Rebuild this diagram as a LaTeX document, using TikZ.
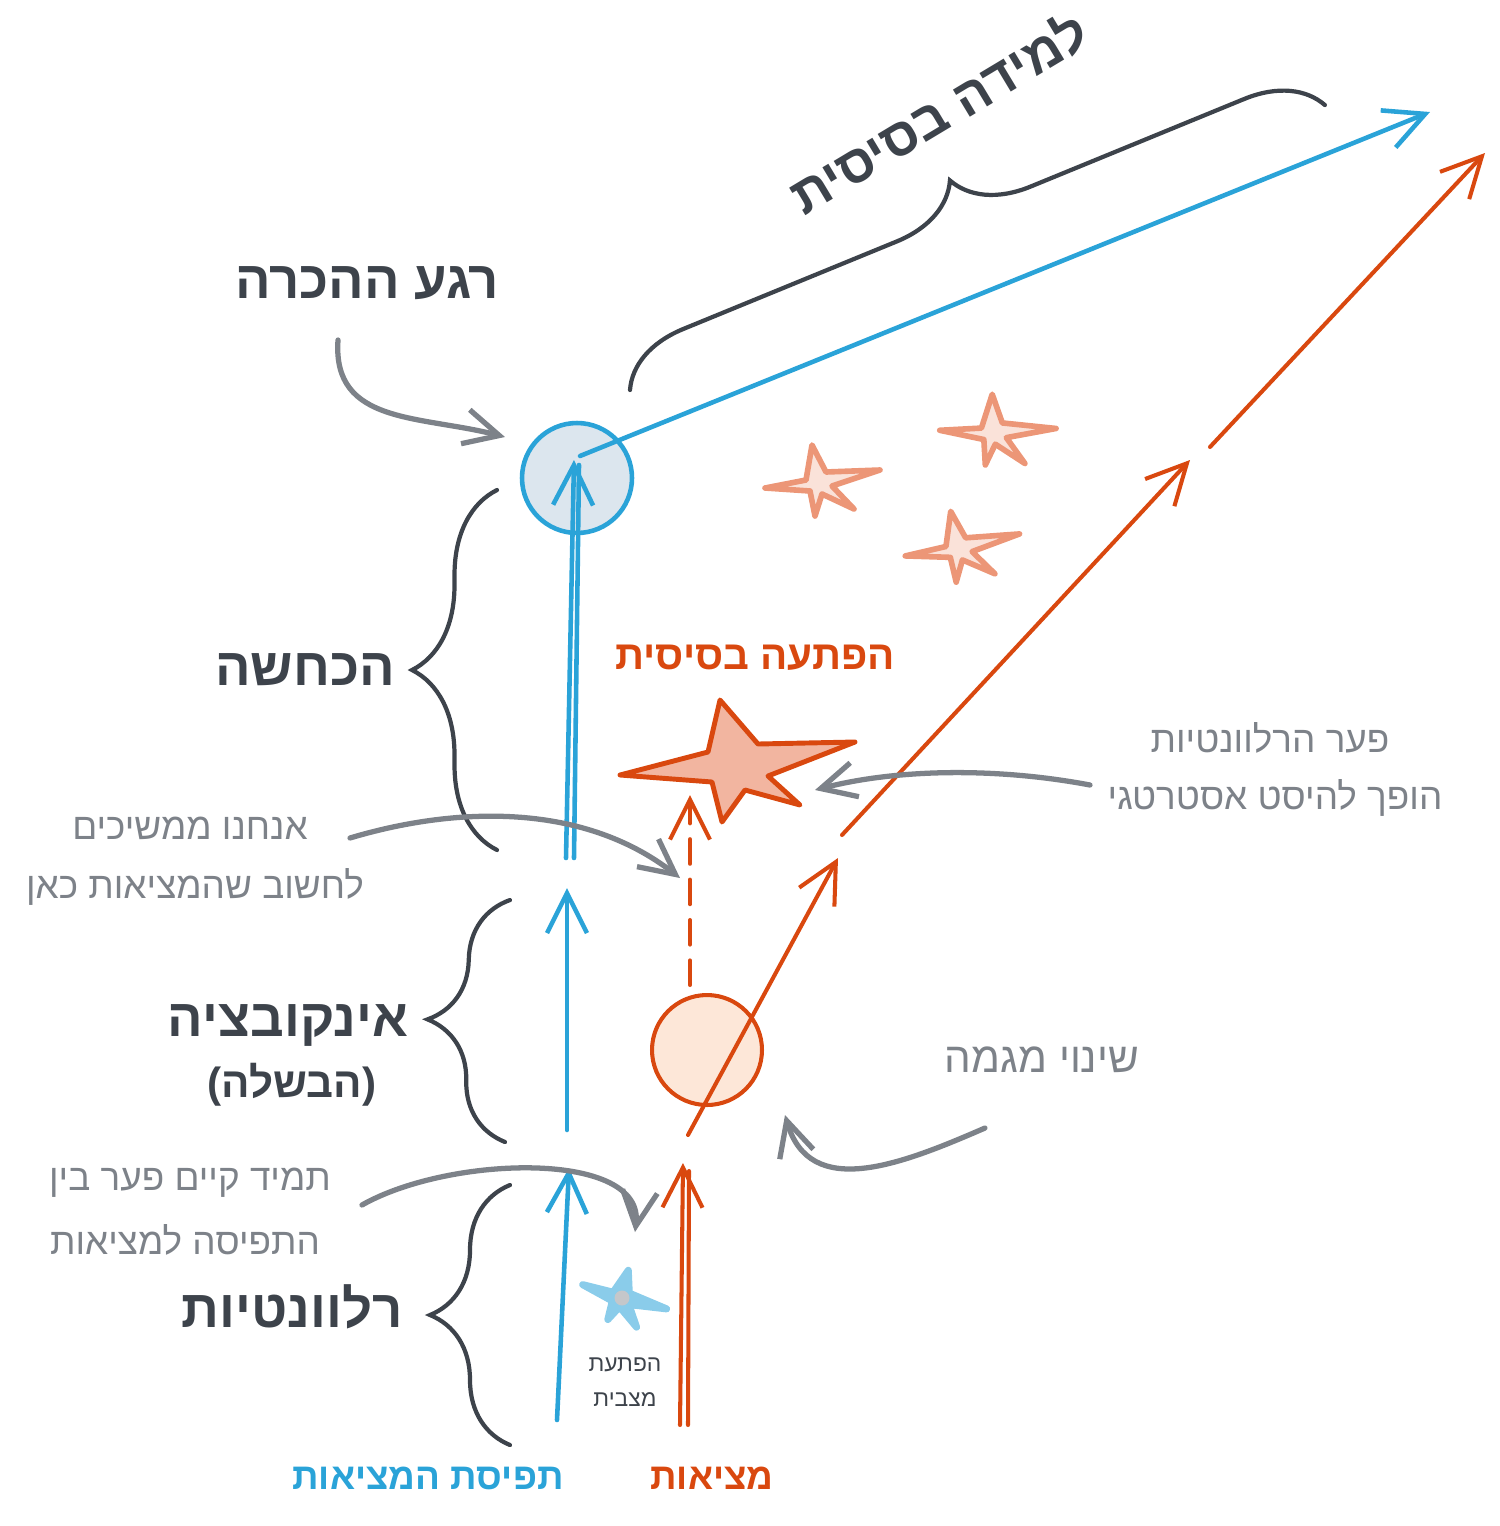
\documentclass[tikz,border=0pt]{standalone}
\usepackage{fontspec}
\usepackage{tikz}
\usepackage{xcolor}
\usetikzlibrary{
  arrows.meta, shapes.geometric, decorations.pathreplacing, calc,
}
\TeXXeTstate=1
\newfontfamily\hebfont[Script=Hebrew]{Liberation Sans}
\newfontfamily\latsans{Liberation Sans}
\newcommand{\rtl}[1]{\beginR #1\endR}
\definecolor{cBlue}      {HTML}{2AA3D8}
\definecolor{cOrange}    {HTML}{D9480F}
\definecolor{cGray}      {HTML}{7D8289}
\definecolor{cDark}      {HTML}{3D434B}
\definecolor{cSalmon}    {HTML}{EC9677}
\definecolor{cBlueFill}  {HTML}{DCE6EE}
\definecolor{cOrangeFill}{HTML}{FDE7D8}

\tikzset{
  pics/burst/.style n args={3}{code={
    \filldraw[draw=#1, fill=#2, line width=#3, line join=round, line cap=round]
      (-55,6) -- (-14,-2) -- (-8,-37) -- (6,-10) -- (60,-12) -- (12,4)
      -- (34,27) -- (2,12) -- (-5,34) -- (-10,9) -- cycle;
  }},
}

\begin{document}
\begin{tikzpicture}[x=0.02cm, y=-0.02cm,
    barb/.style={-{Straight Barb[length=8mm, width=8mm]}},
    grayarrow/.style={draw=cGray, line width=3pt, line cap=round,
      -{Straight Barb[length=7mm, width=7mm]}},
    bluestroke/.style={draw=cBlue, line width=2.6pt, line cap=round},
    orangestroke/.style={draw=cOrange, line width=2.3pt, line cap=round},
    bracestroke/.style={draw=cDark, line width=2.4pt, line cap=round,
      decorate, decoration={brace, amplitude=#1}},
    darklbl/.style={font=\hebfont\bfseries\fontsize{30}{36}\selectfont, text=cDark},
    graylbl/.style={font=\hebfont\fontsize{21}{25}\selectfont, text=cGray},
  ]
  \useasboundingbox (0,0) rectangle (1500,1526);

  % circles: moment of recognition and trend change
  \node[circle, draw=cBlue, fill=cBlueFill, line width=2.6pt,
        minimum size=2.2cm] (recog) at (577,478) {};
  \node[circle, draw=cOrange, fill=cOrangeFill, line width=2.3pt,
        minimum size=2.2cm] (trend) at (707,1050) {};

  % perception line (blue)
  \coordinate (pA) at (557,1420);  \coordinate (pB) at (569,1168);
  \coordinate (pC) at (567,1130);  \coordinate (pD) at (567,888);
  \coordinate (pE) at (566,858);   \coordinate (pF) at (574,460);
  \coordinate (pG) at (1430,112);
  \draw[bluestroke, barb] (pA) -- (pB);
  \draw[bluestroke, barb] (pC) -- (pD);
  \draw[bluestroke] ($(pE)+(8,0)$) -- ($(pF)+(5,5)$);
  \draw[bluestroke, barb] (pE) -- (pF);
  \draw[bluestroke, barb] (recog.center) ++(3,-22) coordinate (pS) -- (pG);

  % reality line (orange)
  \coordinate (rA) at (680,1425);  \coordinate (rB) at (683,1163);
  \coordinate (rC) at (688,1135);  \coordinate (rD) at (838,858);
  \coordinate (rE) at (842,835);   \coordinate (rF) at (1190,460);
  \coordinate (rG) at (1210,447);  \coordinate (rH) at (1485,153);
  \draw[orangestroke] ($(rA)+(8,0)$) -- ($(rB)+(6,8)$);
  \draw[orangestroke, barb] (rA) -- (rB);
  \draw[orangestroke, barb] (rC) -- (rD);
  \draw[orangestroke, barb] (rE) -- (rF);
  \draw[orangestroke, barb] (rG) -- (rH);

  % basic surprise star
  \coordinate (sD) at (690,985);  \coordinate (sU) at (690,795);
  \draw[orangestroke, dashed, dash pattern=on 14pt off 9pt, barb] (sD) -- (sU);
  \draw[draw=cOrange, fill=cSalmon!70, line width=2.8pt, line join=round]
    (620,775) -- (708,752) -- (720,700) -- (758,744) -- (855,742)
    -- (768,776) -- (800,805) -- (745,790) -- (722,822) -- (712,782) -- cycle;
  \node[inner sep=0pt] (bigstar) at (740,765) {};

  % small surprises
  \foreach \sx/\sy/\rot [count=\i] in {820/482/0, 995/432/-8, 960/548/2}{
    \pic[rotate=\rot] (small\i) at (\sx,\sy) {burst={cSalmon}{cSalmon!28}{3.2pt}};
  }
  \pic[rotate=-25, scale=0.75] (bluestar) at (622,1298)
      {burst={cBlue!55}{cBlue!55}{4pt}};
  \node[circle, fill=cGray!45, minimum size=0.3cm, inner sep=0pt]
        at (622,1298) {};

  % braces
  \coordinate (bA) at (497,850);   \coordinate (bB) at (497,490);
  \coordinate (bC) at (505,1142);  \coordinate (bD) at (510,900);
  \coordinate (bE) at (510,1445);  \coordinate (bF) at (510,1185);
  \coordinate (bG) at (630,390);   \coordinate (bH) at (1325,105);
  \draw[bracestroke=1.7cm] (bA) -- (bB);
  \draw[bracestroke=1.6cm] (bC) -- (bD);
  \draw[bracestroke=1.6cm] (bE) -- (bF);
  \draw[bracestroke=1.45cm] (bG) -- (bH);

  % gray pointer arrows
  \coordinate (gA) at (338,340);   \coordinate (gB) at (505,437);
  \coordinate (gC) at (350,838);   \coordinate (gD) at (680,878);
  \coordinate (gE) at (1090,785);  \coordinate (gF) at (815,790);
  \coordinate (gG) at (985,1128);  \coordinate (gH) at (785,1115);
  \coordinate (gI) at (362,1205);  \coordinate (gJ) at (635,1232);
  \draw[grayarrow] (gA) .. controls (332,425) and (420,415) .. (gB);
  \draw[grayarrow] (gC) .. controls (450,808) and (580,800) .. (gD);
  \draw[grayarrow] (gE) .. controls (1000,768) and (900,768) .. (gF);
  \draw[grayarrow] (gG) .. controls (900,1165) and (810,1200) .. (gH);
  \draw[grayarrow] (gI) .. controls (450,1155) and (645,1150) .. (gJ);

  % labels
  \node[darklbl] (lRecog) at (367,283) {\rtl{רגע ההכרה}};
  \node[darklbl, rotate=31] (lLearn) at (938,112) {\rtl{למידה בסיסית}};
  \node[darklbl] (lDenial) at (305,670) {\rtl{הכחשה}};
  \node[darklbl] (lIncub) at (288,1025) {\rtl{אינקובציה}};
  \node[darklbl, font=\hebfont\bfseries\fontsize{24}{28}\selectfont]
        (lRipen) at (292,1085) {{\latsans\bfseries(}\rtl{הבשלה}{\latsans\bfseries)}};
  \node[darklbl] (lRelev) at (292,1307) {\rtl{רלוונטיות}};
  \node[graylbl] (lCont1) at (190,828) {\rtl{אנחנו ממשיכים}};
  \node[graylbl] (lCont2) at (195,887) {\rtl{לחשוב שהמציאות כאן}};
  \node[graylbl] (lGap1) at (190,1183) {\rtl{תמיד קיים פער בין}};
  \node[graylbl] (lGap2) at (185,1240) {\rtl{התפיסה למציאות}};
  \node[graylbl] (lDrift1) at (1270,738) {\rtl{פער הרלוונטיות}};
  \node[graylbl] (lDrift2) at (1275,798) {\rtl{הופך להיסט אסטרטגי}};
  \node[graylbl, font=\hebfont\fontsize{24}{28}\selectfont]
        (lTrend) at (1042,1060) {\rtl{שינוי מגמה}};
  \node[font=\hebfont\fontsize{13}{15}\selectfont, text=cDark]
        (lSit1) at (625,1365) {\rtl{הפתעת}};
  \node[font=\hebfont\fontsize{13}{15}\selectfont, text=cDark]
        (lSit2) at (625,1400) {\rtl{מצבית}};
  \node[font=\hebfont\bfseries\fontsize{23}{28}\selectfont, text=cOrange]
        (lSurp) at (755,658) {\rtl{הפתעה בסיסית}};
  \node[font=\hebfont\bfseries\fontsize{21}{26}\selectfont, text=cBlue]
        (lPerc) at (428,1478) {\rtl{תפיסת המציאות}};
  \node[font=\hebfont\bfseries\fontsize{21}{26}\selectfont, text=cOrange]
        (lReal) at (712,1478) {\rtl{מציאות}};
\end{tikzpicture}
\end{document}
